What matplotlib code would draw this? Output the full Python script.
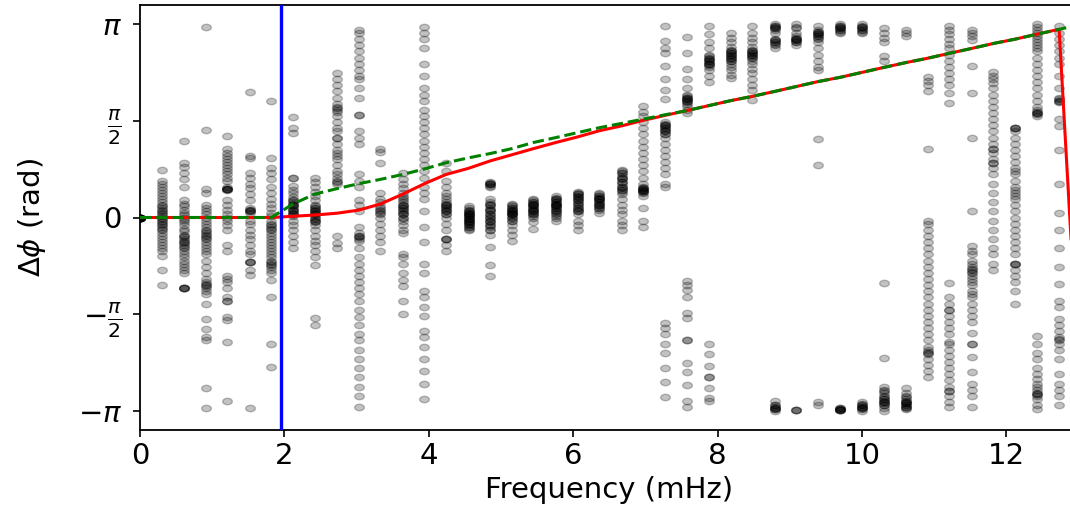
import numpy as np
import matplotlib
matplotlib.use("Agg")
import matplotlib.pyplot as plt
from matplotlib.path import Path
from matplotlib.transforms import Affine2D

# frequencies of the measured phase differences (mHz)
freqs = [0.00, 0.30, 0.61, 0.91, 1.21, 1.52, 1.82, 2.12, 2.42, 2.73, 3.03,
         3.33, 3.64, 3.94, 4.24, 4.55, 4.85, 5.15, 5.45, 5.76, 6.06, 6.36,
         6.67, 6.97, 7.27, 7.58, 7.88, 8.18, 8.48, 8.79, 9.09, 9.39, 9.70,
         10.00, 10.30, 10.61, 10.91, 11.21, 11.52, 11.82, 12.12, 12.42, 12.73]

# phase differences (rad) measured at each frequency
phase_samples = [
    [0, 0, 0, 0, 0, 0, 0, 0, 0, 0, 0, 0],
    [0.78, 0.6, 0.55, 0.5, 0.45, 0.4, 0.35, 0.3, 0.25, 0.2, 0.18, 0.15, 0.12, 0.1, 0.08, 0.05, 0.02, 0.0,
     -0.02, -0.05, -0.08, -0.1, -0.12, -0.15, -0.18, -0.2, -0.25, -0.3, -0.35, -0.4, -0.45, -0.5, -0.55,
     -0.62, -0.86, -1.09],
    [1.24, 0.88, 0.82, 0.72, 0.62, 0.5, 0.28, 0.22, 0.18, 0.12, 0.08, 0.04, 0.0, -0.04, -0.08, -0.12,
     -0.18, -0.22, -0.28, -0.3, -0.32, -0.35, -0.38, -0.4, -0.42, -0.45, -0.48, -0.5, -0.55, -0.6, -0.65,
     -0.7, -0.75, -0.8, -0.85, -0.9, -1.14, -1.14, -1.14, -1.14],
    [3.09, 1.43, 0.46, 0.4, 0.2, 0.15, 0.1, 0.05, 0.0, -0.05, -0.1, -0.15, -0.2, -0.22, -0.25, -0.28, -0.3,
     -0.33, -0.35, -0.4, -0.45, -0.5, -0.55, -0.6, -0.7, -0.8, -0.9, -1.0, -1.05, -1.08, -1.1, -1.12,
     -1.15, -1.2, -1.25, -1.4, -1.65, -1.81, -1.95, -2.0, -2.78, -3.09],
    [1.32, 1.12, 1.05, 1.0, 0.95, 0.9, 0.85, 0.8, 0.75, 0.7, 0.65, 0.6, 0.5, 0.47, 0.47, 0.47, 0.47, 0.45,
     0.28, 0.2, 0.12, 0.05, 0.0, -0.05, -0.12, -0.2, -0.45, -0.55, -0.95, -1.0, -1.05, -1.15, -1.3, -1.35,
     -1.35, -1.62, -1.67, -2.03, -2.98],
    [2.04, 1.0, 0.97, 0.72, 0.65, 0.55, 0.48, 0.38, 0.28, 0.15, 0.12, 0.12, 0.1, 0.1, 0.08, -0.05, -0.1,
     -0.2, -0.28, -0.35, -0.45, -0.55, -0.6, -0.73, -0.73, -0.73, -0.86, -0.94, -3.09],
    [1.89, 0.96, 0.8, 0.72, 0.62, 0.5, 0.4, 0.3, 0.22, 0.15, 0.08, 0.02, -0.05, -0.1, -0.12, -0.15, -0.18,
     -0.2, -0.25, -0.3, -0.35, -0.4, -0.45, -0.5, -0.55, -0.6, -0.65, -0.7, -0.72, -0.75, -0.78, -0.8,
     -0.85, -0.9, -1.02, -1.3, -2.05, -2.43],
    [1.63, 1.45, 1.38, 0.65, 0.65, 0.52, 0.45, 0.4, 0.33, 0.28, 0.25, 0.22, 0.2, 0.18, 0.15, 0.12, 0.1,
     0.08, 0.05, 0.02, -0.05, -0.12, -0.2, -0.3, -0.4, -0.5, 0.28, 0.2, 0.12, 0.05],
    [0.65, 0.58, 0.5, 0.42, 0.35, 0.28, 0.2, 0.18, 0.15, 0.12, 0.1, 0.08, 0.05, 0.02, -0.02, -0.05, -0.08,
     -0.12, -0.2, -0.3, -0.38, -0.45, -0.55, -0.65, -0.78, -1.63, -1.75, 0.15, 0.1, 0.05, 0.0, -0.05],
    [2.35, 2.25, 2.15, 2.05, 1.95, 1.85, 1.8, 1.78, 1.75, 1.72, 1.65, 1.55, 1.45, 1.4, 1.3, 1.3, 1.2, 1.1,
     1.05, 1.0, 0.95, 0.85, 0.75, 0.7, 0.65, 0.6, 0.58, 0.55, -0.3, -0.42, -0.5],
    [3.05, 3.0, 2.9, 2.8, 2.7, 2.6, 2.5, 2.4, 2.3, 2.25, 2.1, 1.95, 1.66, 1.66, 1.4, 1.3, 1.2, 0.7, 0.6,
     0.5, 0.28, 0.2, 0.1, -0.15, -0.25, -0.3, -0.3, -0.32, -0.35, -0.38, -0.5, -0.65, -0.75, -0.85, -0.95,
     -1.05, -1.15, -1.25, -1.35, -1.5, -1.62, -1.75, -1.9, -2.0, -2.15, -2.3, -2.45, -2.6, -2.75, -2.9,
     -3.08],
    [1.12, 1.07, 0.88, 0.4, 0.3, 0.25, 0.18, 0.15, 0.12, 0.1, 0.08, 0.05, 0.0, -0.1, -0.2, -0.3, -0.4,
     -0.55],
    [0.72, 0.62, 0.55, 0.48, 0.4, 0.35, 0.32, 0.28, 0.25, 0.2, 0.18, 0.15, 0.12, 0.08, 0.05, 0.0, -0.05,
     -0.12, -0.2, -0.25, -0.6, -0.65, -0.75, -0.9, -1.02, -1.12, -1.35, -1.57, 0.2, 0.15, 0.1, 0.05, 0.0],
    [3.1, 3.0, 2.9, 2.75, 2.5, 2.3, 2.1, 2.0, 1.9, 1.75, 1.65, 1.55, 1.45, 1.35, 1.25, 1.15, 1.05, 0.95,
     0.85, 0.75, 0.65, 0.5, 0.4, 0.3, 0.1, -0.15, -0.4, -0.75, -0.9, -1.2, -1.3, -1.45, -1.6, -1.85,
     -1.95, -2.1, -2.3, -2.5, -2.7, -2.95],
    [0.88, 0.75, 0.6, 0.5, 0.4, 0.35, 0.3, 0.25, 0.22, 0.2, 0.18, 0.15, 0.12, 0.1, 0.05, 0.0, -0.1, -0.2,
     -0.35, -0.35, -0.35, -0.45, -0.55, 0.2, 0.15, 0.1, 0.05],
    [0.18, 0.15, 0.12, 0.1, 0.08, 0.06, 0.04, 0.02, 0.0, -0.02, -0.05, -0.08, -0.1, -0.12, -0.15, -0.18,
     -0.2, 0.1, 0.05, 0.0, -0.05, -0.1, 0.08, 0.02, -0.02, -0.08, -0.15],
    [0.58, 0.56, 0.55, 0.52, 0.5, 0.3, 0.25, 0.22, 0.2, 0.15, 0.12, 0.1, 0.06, 0.03, 0.0, -0.05, -0.08,
     -0.12, -0.15, -0.2, -0.28, -0.48, -0.78, -0.95, 0.55, 0.55, 0.2, 0.12, 0.06, 0.0, -0.05, -0.12, -0.2],
    [0.22, 0.2, 0.18, 0.15, 0.12, 0.1, 0.08, 0.06, 0.05, 0.02, 0.0, -0.05, -0.12, -0.2, -0.28, -0.38,
     0.15, 0.1, 0.05, 0.0, -0.05, 0.12, 0.08],
    [0.3, 0.28, 0.25, 0.22, 0.2, 0.18, 0.15, 0.12, 0.1, 0.08, 0.05, 0.02, 0.0, -0.08, -0.18,
     0.25, 0.2, 0.15, 0.1, 0.05, 0.22, 0.12],
    [0.35, 0.32, 0.3, 0.28, 0.25, 0.22, 0.2, 0.18, 0.15, 0.12, 0.1, 0.08, 0.05, 0.02, 0.0, -0.05,
     0.3, 0.25, 0.2, 0.15, 0.1, 0.22, 0.18],
    [0.42, 0.4, 0.38, 0.35, 0.33, 0.3, 0.28, 0.25, 0.22, 0.18, 0.15, 0.12, 0.1, 0.05, -0.05, -0.12, -0.2,
     0.38, 0.33, 0.28, 0.22, 0.15, 0.1],
    [0.4, 0.38, 0.35, 0.32, 0.3, 0.28, 0.25, 0.22, 0.2, 0.18, 0.15, 0.12, 0.08,
     0.35, 0.3, 0.25, 0.2, 0.15, 0.32],
    [0.78, 0.75, 0.72, 0.68, 0.65, 0.62, 0.58, 0.55, 0.5, 0.48, 0.45, 0.42, 0.38, 0.3, 0.2, 0.12, 0.05,
     -0.05, -0.12, -0.2, 0.72, 0.65, 0.58, 0.5, 0.45],
    [1.82, 1.72, 1.65, 1.55, 1.45, 1.35, 1.25, 1.15, 1.05, 0.95, 0.85, 0.75, 0.65, 0.55, 0.5, 0.48, 0.46,
     0.45, 0.43, 0.42, 0.4, 0.35, 0.15, -0.05, -0.15, 0.48, 0.45, 0.43],
    [3.12, 2.87, 2.75, 2.68, 2.46, 2.25, 2.07, 1.92, 1.55, 1.52, 1.5, 1.48, 1.45, 1.42, 1.4, 1.35, 1.3,
     1.2, 1.1, 1.0, 0.9, 0.8, 0.7, 0.55, 0.5, -1.72, -1.8, -1.9, -2.05, -2.2, -2.45, -2.67, -2.92,
     1.5, 1.45, 1.4, 1.35],
    [2.93, 2.67, 2.42, 2.25, 2.1, 2.0, 1.97, 1.95, 1.93, 1.9, 1.88, 1.82, 1.75, 1.7, -1.03, -1.1, -1.18,
     -1.3, -1.55, -1.63, -1.99, -1.99, -2.36, -2.52, -2.73, -2.98, -3.08, 1.95, 1.9, 1.85, 1.93],
    [3.12, 2.98, 2.85, 2.75, 2.65, 2.6, 2.58, 2.55, 2.52, 2.5, 2.48, 2.45, 2.4, 2.3, 2.2, -2.05, -2.22,
     -2.41, -2.6, -2.6, -2.78, -2.93, -2.98, 2.58, 2.55, 2.5, 2.62],
    [3.0, 2.92, 2.85, 2.78, 2.72, 2.7, 2.68, 2.65, 2.62, 2.6, 2.58, 2.55, 2.5, 2.45, 2.4, 2.32, 2.27,
     2.7, 2.65, 2.6, 2.55, 2.68],
    [3.12, 3.0, 2.92, 2.85, 2.78, 2.72, 2.7, 2.68, 2.65, 2.62, 2.6, 2.55, 2.5, 2.42, 2.35, 2.25, 2.15,
     2.08, 1.91, 2.7, 2.65, 2.6, 2.68],
    [3.15, 3.12, 3.1, 3.08, 3.05, 3.0, 2.9, 2.88, 2.85, 2.82, 2.8, 2.75, -2.98, -3.05, -3.08, -3.1, -3.12,
     -3.14, 3.12, 3.08, 2.88, 2.85, -3.1, -3.12, -3.05],
    [3.15, 3.08, 3.0, 2.95, 2.92, 2.9, 2.88, 2.85, 2.8, -3.13, -3.13, 2.9, 2.88, 2.85, 3.1, -3.13],
    [3.12, 3.05, 3.02, 3.0, 2.98, 2.95, 2.92, 2.9, 2.85, 2.75, 2.65, 2.55, 2.45, 2.4, 1.27, 0.85, -3.0,
     -3.05, 3.02, 2.98, 2.95],
    [3.15, 3.12, 3.1, 3.08, 3.05, 3.02, 3.0, -3.13, -3.13, -3.12, -3.1, -3.1,
     3.12, 3.08, 3.05, -3.13, -3.12, -3.13],
    [3.15, 3.12, 3.1, 3.08, 3.05, 3.02, 3.0, -3.0, -3.03, -3.05, -3.08, -3.1, -3.12, -3.15,
     3.1, 3.05, -3.05, -3.1, -3.08],
    [3.08, 3.0, 2.92, 2.85, 2.62, 2.55, -1.06, -2.28, -2.75, -2.8, -2.82, -2.85, -2.9, -2.92, -2.95,
     -2.98, -3.0, -3.02, -3.05, -3.1, -3.14, -2.95, -3.0, -3.05],
    [3.05, 3.0, 2.95, -2.78, -2.85, -2.9, -2.92, -2.95, -2.98, -3.0, -3.02, -3.05, -3.08, -3.1, -3.12,
     -3.0, -3.05, -3.08, -3.02],
    [2.28, 2.22, 2.15, 2.05, 1.12, -0.05, -0.1, -0.2, -0.3, -0.4, -0.5, -0.6, -0.7, -0.8, -0.9, -1.0,
     -1.1, -1.2, -1.3, -1.4, -1.5, -1.6, -1.7, -1.8, -1.9, -2.0, -2.1, -2.15, -2.18, -2.2, -2.22, -2.3,
     -2.4, -2.5, -2.6],
    [3.12, 3.05, 2.98, 2.9, 2.82, 2.75, 2.65, 2.55, 2.45, 2.35, 2.25, 2.15, 2.02, 1.86, -1.06, -1.3, -1.4,
     -1.5, -1.51, -1.6, -1.7, -1.8, -1.9, -2.03, -2.05, -2.15, -2.25, -2.35, -2.45, -2.55, -2.65, -2.75,
     -2.82, -2.82, -2.9, -3.0, -3.08],
    [3.05, 3.0, 2.95, 2.88, 2.46, 2.02, 1.29, 0.1, -0.47, -0.55, -0.6, -0.7, -0.75, -0.8, -0.83, -0.85,
     -0.88, -0.9, -0.95, -1.0, -1.05, -1.1, -1.2, -1.25, -1.3, -1.4, -1.5, -1.6, -1.7, -1.88, -2.05,
     -2.05, -2.27, -2.51, -2.7, -2.8, -2.9, -3.08],
    [2.36, 2.3, 2.25, 2.18, 2.1, 2.0, 1.9, 1.8, 1.7, 1.6, 1.5, 1.4, 1.3, 1.2, 1.12, 1.12, 1.05, 0.95,
     0.88, 0.88, 0.8, 0.7, 0.55, 0.4, 0.25, 0.1, -0.05, -0.2, -0.35, -0.5, -0.6, -0.75, -0.86],
    [1.45, 1.45, 1.45, 1.4, 1.3, 1.2, 1.1, 1.0, 0.9, 0.8, 0.75, 0.7, 0.6, 0.5, 0.45, 0.4, 0.35, 0.3, 0.2,
     0.1, 0.0, -0.1, -0.2, -0.3, -0.4, -0.5, -0.6, -0.75, -0.75, -0.75, -0.85, -0.95, -1.05, -1.2, -1.4],
    [3.15, 3.1, 3.05, 3.0, 2.95, 2.9, 2.85, 2.8, 2.75, 2.7, 2.6, 2.5, 2.4, 2.3, 2.2, 2.1, 2.0, 1.9, 1.8,
     1.75, 1.72, 1.7, 1.7, 1.68, 1.65, -1.92, -2.05, -2.2, -2.3, -2.45, -2.55, -2.62, -2.7, -2.75, -2.8,
     -2.85, -2.87, -2.87, -2.9, -2.95, -3.05, -3.12],
    [3.12, 3.0, 2.9, 2.8, 2.7, 2.6, 2.5, 2.3, 2.1, 1.95, 1.92, 1.9, 1.9, 1.88, 1.6, 1.48, 1.1, 0.55, 0.08,
     -0.21, -0.5, -0.8, -1.08, -1.35, -1.45, -1.65, -1.75, -1.85, -1.95, -1.97, -2.0, -2.05, -2.15, -2.3,
     -2.54, -2.7, -2.8, -2.9, -3.05],
]

# model curves (rad), one more frequency past the last measurement
model_freqs = freqs + [13.03]
model_phase = [0, 0, 0, 0, 0, 0, 0, 0.02, 0.04, 0.07, 0.12, 0.22, 0.38, 0.55, 0.70, 0.80,
               0.92, 1.02, 1.12, 1.22, 1.31, 1.41, 1.49, 1.58, 1.66, 1.74, 1.82, 1.90, 1.97,
               2.05, 2.13, 2.21, 2.28, 2.36, 2.44, 2.52, 2.59, 2.67, 2.75, 2.83, 2.90, 2.98,
               3.06, -3.14]
linear_phase = [0, 0, 0, 0, 0, 0, 0, 0.22, 0.38, 0.47, 0.55, 0.62, 0.70, 0.79, 0.89, 0.97,
                1.04, 1.12, 1.22, 1.30, 1.38, 1.46, 1.53, 1.60, 1.67, 1.74, 1.82, 1.90, 1.97,
                2.05, 2.13, 2.21, 2.28, 2.36, 2.44, 2.52, 2.59, 2.67, 2.75, 2.83, 2.90, 2.98,
                3.06, 3.14]
cutoff_freq = 1.95

# markers in the reference look horizontally stretched
ellipse = Path.unit_circle().transformed(Affine2D().scale(1.5, 1.0))

fig = plt.figure(figsize=(10.7, 5.05), dpi=100)
ax = fig.add_axes([140 / 1070, 75 / 505, 938.6 / 1070, 425 / 505])

for f, vals in zip(freqs, phase_samples):
    ax.plot([f] * len(vals), vals, linestyle='none', marker=ellipse, color='k',
            alpha=0.24, markersize=7, markeredgewidth=1.0)

ax.plot(model_freqs, model_phase, color='r', lw=2.2, zorder=3)
ax.plot(model_freqs, linear_phase, color='g', lw=2.2, ls='--', zorder=4)
ax.axvline(cutoff_freq, color='b', lw=2.4, zorder=5)

ax.set_xlim(0, 13)
ax.set_ylim(-1.1 * np.pi, 1.1 * np.pi)
ax.set_xticks([0, 2, 4, 6, 8, 10, 12])
ax.set_yticks([-np.pi, -np.pi / 2, 0, np.pi / 2, np.pi])
ax.set_yticklabels([r'$-\pi$', r'$-\frac{\pi}{2}$', r'$0$', r'$\frac{\pi}{2}$', r'$\pi$'])
ax.tick_params(labelsize=21, length=5, width=1.2, pad=4)
ax.tick_params(axis='y', pad=8)
for s in ax.spines.values():
    s.set_linewidth(1.3)

ax.set_xlabel('Frequency (mHz)', fontsize=21)
ax.set_ylabel(r'$\Delta\phi$ (rad)', fontsize=21)
ax.xaxis.set_label_coords(0.5, -0.108)
ax.yaxis.set_label_coords(-0.098, 0.5)

fig.savefig('out.png', dpi=100)
